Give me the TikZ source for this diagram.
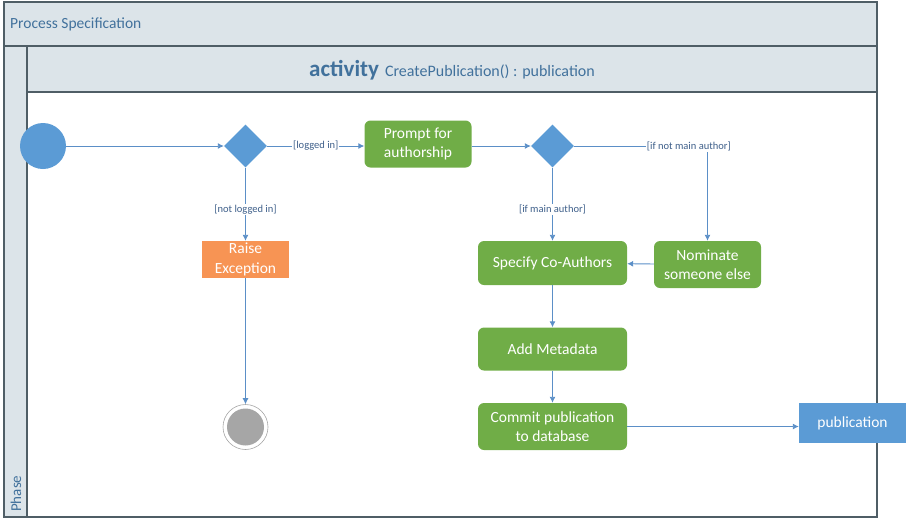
\documentclass[tikz,border=0pt]{standalone}
\usepackage{fontspec}
\setmainfont{Carlito}
\usetikzlibrary{shapes.geometric,arrows.meta}
\definecolor{hdr}{HTML}{DCE4E9}
\definecolor{frm}{HTML}{4F5E66}
\definecolor{ttl}{HTML}{41719C}
\definecolor{grn}{HTML}{70AD47}
\definecolor{org}{HTML}{F79454}
\definecolor{blu}{HTML}{5B9BD5}
\definecolor{arr}{HTML}{5B8FC7}
\definecolor{lbl}{HTML}{3E5F8A}
\definecolor{endg}{HTML}{A6A6A6}
\tikzset{
  act/.style={draw=none,fill=grn,rounded corners=6pt,text=white,align=center,
    font=\fontsize{15.5}{19.5}\selectfont,inner sep=0pt},
  exc/.style={draw=none,fill=org,text=white,align=center,
    font=\fontsize{15.5}{19.5}\selectfont,inner sep=0pt},
  obj/.style={draw=none,fill=blu,text=white,align=center,
    font=\fontsize{15.5}{19.5}\selectfont,inner sep=0pt},
  dec/.style={diamond,fill=blu,draw=none,minimum width=43pt,minimum height=43pt,inner sep=0pt,aspect=1},
  flow/.style={draw=arr,line width=0.9pt,-{Latex[length=6pt,width=6pt]}},
  guard/.style={fill=white,text=lbl,font=\fontsize{10.5}{12}\selectfont,inner sep=1pt},
}
\begin{document}
\begin{tikzpicture}[x=1pt,y=-1pt]
\useasboundingbox (0,0) rectangle (908,523);
% frame
\fill[hdr] (4,2) rectangle (877,46);
\fill[hdr] (4,46) rectangle (27,517);
\fill[hdr] (27,46) rectangle (877,92);
\draw[frm,line width=1.1pt] (4,2) rectangle (877,517);
\draw[frm,line width=1.1pt] (4,46) -- (877,46);
\draw[frm,line width=1.1pt] (27,46) -- (27,517);
\draw[frm,line width=1.1pt] (27,92) -- (877,92);
\node[anchor=west,text=ttl,font=\fontsize{15.5}{18}\selectfont,inner sep=0pt] (ps) at (10,24) {Process Specification};
\node[text=ttl,inner sep=0pt] (title) at (452,70) {{\fontsize{23}{26}\selectfont\bfseries activity}\hspace{6pt}{\fontsize{16}{18}\selectfont CreatePublication() : publication}};
\node[rotate=90,anchor=west,text=ttl,font=\fontsize{15}{17}\selectfont,inner sep=0pt] (phase) at (16,512) {Phase};
% nodes
\node[circle,fill=blu,minimum size=46pt,inner sep=0pt] (start) at (43,146) {};
\node[dec] (d1) at (245.5,146) {};
\node[act,minimum width=107pt,minimum height=47pt] (prompt) at (418,144) {Prompt for\\authorship};
\node[dec] (d2) at (552.5,146) {};
\node[exc,minimum width=87pt,minimum height=37pt] (raise) at (245.5,259.5) {Raise\\Exception};
\node[act,minimum width=149pt,minimum height=44pt] (spec) at (552.5,263) {Specify Co-Authors};
\node[act,minimum width=107pt,minimum height=47pt] (nom) at (707.5,264.5) {Nominate\\someone else};
\node[act,minimum width=149pt,minimum height=43pt] (meta) at (552.5,349) {Add Metadata};
\node[act,minimum width=149pt,minimum height=47pt] (commit) at (552.5,426.5) {Commit publication\\to database};
\node[obj,minimum width=107pt,minimum height=40pt] (pub) at (852.5,423) {publication};
\node[circle,draw=endg,line width=0.6pt,fill=white,minimum size=45pt,inner sep=0pt] (end) at (245.5,427) {};
\fill[endg] (end.center) circle (18.5pt);
% flows
\draw[flow] (start) -- (d1);
\draw[flow] (d1) -- node[guard] {[logged in]} (d1 -| prompt.west);
\draw[flow] (d1) -- node[guard,pos=0.57] {[not logged in]} (raise);
\draw[flow] (prompt.east |- d2) -- (d2);
\draw[flow] (d2) -- node[guard,pos=0.57] {[if main author]} (spec);
\draw[flow] (d2) -| node[guard,pos=0.43] {[if not main author]} (nom);
\draw[flow] (nom) -- (spec);
\draw[flow] (spec) -- (meta);
\draw[flow] (meta) -- (commit);
\draw[flow] (commit.east) -- (commit.east -| pub.west);
\draw[flow] (raise) -- (end);
\end{tikzpicture}
\end{document}
